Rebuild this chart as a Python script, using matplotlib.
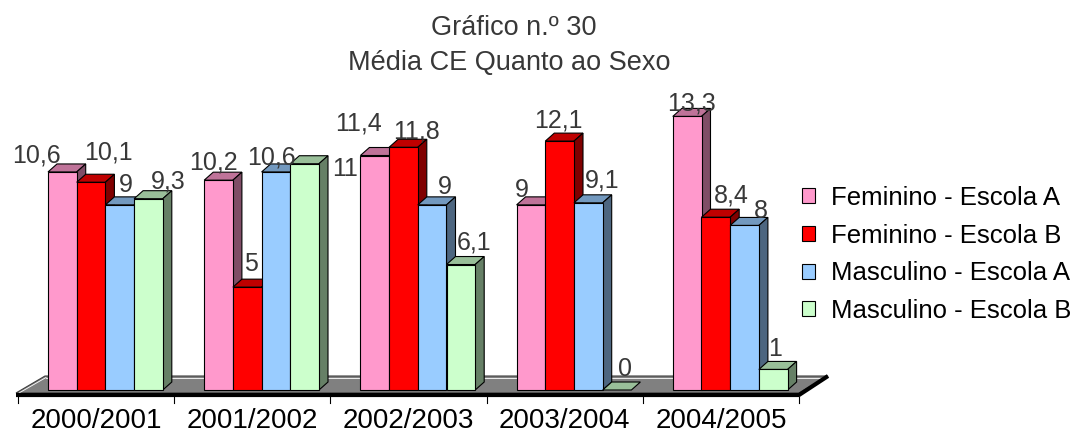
import numpy as np
import matplotlib
matplotlib.use("Agg")
import matplotlib.pyplot as plt
from matplotlib.patches import Polygon, Patch
from matplotlib.colors import to_rgb

plt.rcParams['font.family'] = ['Liberation Sans', 'DejaVu Sans']

# ---------------- data ----------------
categories = ["2000/2001", "2001/2002", "2002/2003", "2003/2004", "2004/2005"]
series_names = ["Feminino - Escola A", "Feminino - Escola B",
                "Masculino - Escola A", "Masculino - Escola B"]
fem_a = [10.6, 10.2, 11.4, 9, 13.3]
fem_b = [10.1, 5, 11.8, 12.1, 8.4]
masc_a = [9, 10.6, 9, 9.1, 8]
masc_b = [9.3, 11, 6.1, 0, 1]
series_values = [fem_a, fem_b, masc_a, masc_b]
colors = ["#FF99CC", "#FF0000", "#99CCFF", "#CCFFCC"]
title_lines = ["Gráfico n.º 30", "Média CE Quanto ao Sexo"]

# label offsets (pixels: dx, up) relative to bar front-top centre -- layout only
label_offsets = [
    [(-26, 9), (-5, 11), (-16, 25), (-9, 8), (4, 6)],
    [(17, 23), (4, 16), (13, 9), (-1, 14), (15, 15)],
    [(6, 13), (-5, 7), (13, 11), (14, 15), (16, 7)],
    [(20, 10), (40, -12), (13, 15), (8, 14), (2, 13)],
]

# ---------------- layout ----------------
W, H = 1076, 434
fig = plt.figure(figsize=(W / 100, H / 100), dpi=100)
ax = fig.add_axes([0, 0, 1, 1])
PX_X = 156.2          # pixels per category
PX_Y = 20.57          # pixels per value unit
X0 = 105.4            # px of first group centre
Y0 = 390              # px of baseline (from top)
ax.set_xlim(-X0 / PX_X, (W - X0) / PX_X)
ax.set_ylim((Y0 - H) / PX_Y, Y0 / PX_Y)
ax.axis('off')


def px2x(px):
    return (px - X0) / PX_X


def py2y(py):
    return (Y0 - py) / PX_Y


w = 28.7 / PX_X
ddx = 9 / PX_X
ddy = 8 / PX_Y


def shade(c, f):
    r, g, b = to_rgb(c)
    return (r * f, g * f, b * f)


# floor
fl_front, fl_back = py2y(393), py2y(376)
floor = Polygon([(px2x(16), fl_front), (px2x(799), fl_front),
                 (px2x(828), fl_back), (px2x(45), fl_back)],
                closed=True, facecolor="#808080", edgecolor="#404040", lw=0.8, zorder=2)
ax.add_patch(floor)
# thin light lines of the wall base
ax.plot([px2x(46), px2x(826)], [py2y(377.5), py2y(377.5)], color="white", lw=0.6, zorder=3)
ax.plot([px2x(19), px2x(46)], [py2y(393), py2y(377.5)], color="white", lw=0.6, zorder=3)
# thick front/right edge
ax.plot([px2x(16), px2x(799), px2x(828)], [py2y(395), py2y(395), py2y(376)],
        color="black", lw=3.0, solid_capstyle='butt', zorder=3)

# ticks and category labels
xc = np.arange(len(categories))
bounds = np.arange(len(categories) + 1) + px2x(18)
for b in bounds:
    ax.plot([b, b], [py2y(397), py2y(403)], color="black", lw=0.8, zorder=3)
for i, cat in enumerate(categories):
    ax.text((bounds[i] + bounds[i + 1]) / 2, py2y(433.5), cat, ha='center', va='bottom',
            fontsize=20, color='black', zorder=5)

# bars
for i in range(len(categories)):
    for j, vals in enumerate(series_values):
        order = i * 4 + j
        x = xc[i] + (j - 1.5) * w
        v = vals[i]
        c = colors[j]
        zb = 10 + 3 * order
        left, right = x - w / 2, x + w / 2
        top = Polygon([(left, v), (right, v), (right + ddx, v + ddy), (left + ddx, v + ddy)],
                      closed=True, facecolor=shade(c, 0.75), edgecolor='black', lw=0.8, zorder=zb)
        ax.add_patch(top)
        if v > 0:
            side = Polygon([(right, 0), (right + ddx, ddy), (right + ddx, v + ddy), (right, v)],
                           closed=True, facecolor=shade(c, 0.5), edgecolor='black', lw=0.8, zorder=zb)
            ax.add_patch(side)
            ax.bar(x, v, width=w, color=c, edgecolor='black', linewidth=0.8, zorder=zb + 1)
        dx, up = label_offsets[j][i]
        lab = ("%g" % v).replace('.', ',')
        ax.annotate(lab, xy=(x, v), xytext=(dx, up), textcoords='offset pixels',
                    ha='center', va='baseline', fontsize=18, color='#383838', zorder=200)

# title
fig.text(514 / W, 1 - 35 / H, title_lines[0], ha='center', va='baseline',
         fontsize=19.5, color='#383838')
fig.text(509 / W, 1 - 70 / H, title_lines[1], ha='center', va='baseline',
         fontsize=19.5, color='#383838')

# legend
handles = [Patch(facecolor=c, edgecolor='black', linewidth=0.8) for c in colors]
fig.legend(handles, series_names, loc='upper left', bbox_to_anchor=(802 / W, 1 - 186 / H),
           frameon=False, fontsize=18.5, borderpad=0, borderaxespad=0,
           handlelength=0.52, handleheight=0.52, handletextpad=0.6, labelspacing=0.53)

fig.savefig("out.png", dpi=100)
